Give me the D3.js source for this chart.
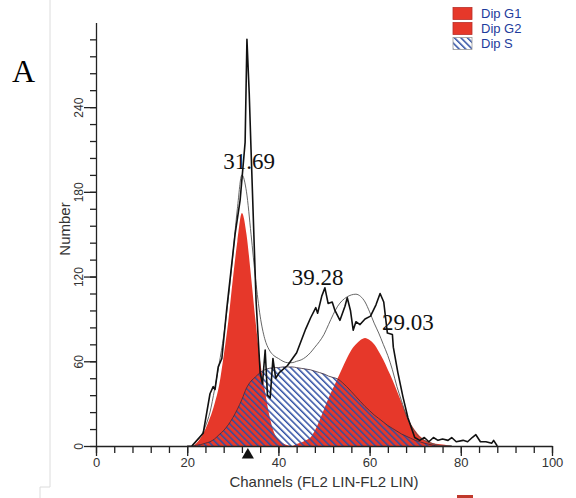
<!DOCTYPE html>
<html>
<head>
<meta charset="utf-8">
<script src="https://cdn.jsdelivr.net/npm/d3@7"></script>
<style>
  body { margin: 0; background: #fff; }
  svg { display: block; }
</style>
</head>
<body>
<svg width="576" height="498"></svg>
<script>

// Channel grid for the fitted components (20 .. 78)
const gridChannels = d3.range( 20, 79 );

const g1Counts = [ 0, 0, 2, 6, 12, 20, 30, 43, 64, 88, 118, 145, 165, 150, 120, 88, 60, 40, 22, 10,
  5, 2, 0.5, 0, 0, 0, 0, 0, 0, 0, 0, 0, 0, 0, 0, 0, 0, 0, 0, 0,
  0, 0, 0, 0, 0, 0, 0, 0, 0, 0, 0, 0, 0, 0, 0, 0, 0, 0, 0 ];

const g2Counts = [ 0, 0, 0, 0, 0, 0, 0, 0, 0, 0, 0, 0, 0, 0, 0, 0, 0, 0, 0, 0,
  0, 0, 0, 0, 1.5, 2.5, 4, 6, 11, 18, 26, 34, 41, 48, 55, 62, 68, 72, 75, 76.5,
  75, 72, 67, 61, 54, 47, 39, 31, 23, 16, 11, 7, 4.5, 3, 2, 1.5, 1, 0.5, 0 ];

const sCounts = [ 0, 0, 0.5, 1, 2, 3, 5, 8, 11, 15, 20, 26, 33, 41, 46, 49, 52, 54, 55, 55.5,
  55.5, 56, 56, 56, 55.5, 55, 54.5, 54, 53, 52, 51, 49.5, 48.5, 47.5, 45, 42, 38.5, 35, 31.5, 28,
  25, 22, 19.5, 17, 14.5, 12.5, 10.5, 8.5, 7, 5.5, 4, 3, 2, 1.2, 0.5, 0, 0, 0, 0 ];

const fitCounts = [ 0, 0, 3, 7, 14, 24, 40, 58, 78, 104, 135, 168, 192, 180, 150, 118, 92, 76, 68, 64,
  62, 60, 59, 59, 60, 61, 63, 66, 70, 74, 79, 86, 93, 99, 103, 105.5, 107, 107.5, 106, 102,
  95, 87, 80, 72, 64, 54, 42, 32, 22, 15, 10, 6, 4, 2.5, 1.5, 0.5, 0, 0, 0 ];

// Raw histogram
const histChannels = [ 21.0, 23.5, 25.0, 25.7, 26.1, 26.8, 27.6, 28.7, 30.5, 31.6, 32.7, 33.1, 33.6, 34.0, 35.1,
  36.0, 36.5, 37.1, 37.6, 38.2, 38.8, 39.4, 40.2, 42.0, 44.0, 46.0, 47.1, 48.2, 48.6, 49.5,
  50.2, 50.9, 51.8, 52.4, 53.5, 54.6, 55.1, 55.8, 56.4, 57.0, 57.9, 59.0, 60.2, 61.4, 62.3,
  63.1, 63.9, 65.0, 65.2, 66.2, 67.3, 68.4, 69.9, 71.0, 72.0, 73.0, 74.0, 75.0, 76.0, 77.2,
  78.0, 79.0, 80.5, 81.5, 82.5, 83.3, 84.3, 85.5, 86.8, 87.2, 88.0 ];

const histCounts = [ 0, 9, 37, 42, 40, 56, 62, 98, 150, 174, 215, 288, 250, 210, 103,
  52, 44, 68, 36, 34, 62, 48, 52, 57, 66, 83, 91, 98, 94, 106,
  112, 101, 102, 96, 89, 99, 105, 96, 82, 88, 86, 90, 92, 100, 108,
  102, 80, 79, 70, 52, 35, 20, 6, 4, 6, 3, 6, 4, 5, 4,
  6, 3, 4, 3, 6, 8, 3, 3, 2, 4, 0 ];

const peakLabels = [ "31.69", "39.28", "29.03" ];
const peakLabelChannels = [ 33.6, 48.6, 68.4 ];
const peakLabelCounts = [ 196, 114, 82 ];

const legendNames = [ "Dip G1", "Dip G2", "Dip S" ];
const markerChannel = 33.3;

const xMajorTicks = [ 0, 20, 40, 60, 80, 100 ];
const xMinorTicks = d3.range( 0, 101, 4 );
const yMajorTicks = [ 0, 60, 120, 180, 240 ];
const yMinorTicks = d3.range( 0, 289, 12 );

const red = "#e6382a";
const hatchBlue = "#2f4fa3";
const sans = "'Liberation Sans', Arial, sans-serif";
const serif = "'Liberation Serif', 'Times New Roman', serif";

const svg = d3.select( "svg" );

const x = d3.scaleLinear()
  .domain( [ 0, 100 ] )
  .range( [ 96, 552 ] );

const y = d3.scaleLinear()
  .domain( [ 0, 300 ] )
  .range( [ 446, 22.4 ] );

// Frame remnants of the scanned page

svg.append( "path" )
  .attr( "d", "M50,0V487H40V498" )
  .attr( "fill", "none" )
  .attr( "stroke", "#dcdcdc" )
  .attr( "stroke-width", 1 );

svg.append( "rect" )
  .attr( "x", 457 ).attr( "y", 495 )
  .attr( "width", 16 ).attr( "height", 3 )
  .attr( "fill", "#c0392b" );

svg.append( "text" )
  .attr( "x", 12 )
  .attr( "y", 82 )
  .style( "font-family", serif )
  .style( "font-size", "32px" )
  .text( "A" );

// Hatch pattern for S phase

const defs = svg.append( "defs" );

defs.append( "pattern" )
  .attr( "id", "hatch" )
  .attr( "patternUnits", "userSpaceOnUse" )
  .attr( "width", 4.6 )
  .attr( "height", 10 )
  .attr( "patternTransform", "rotate(-45)" )
  .append( "rect" )
    .attr( "x", 0 ).attr( "y", 0 )
    .attr( "width", 1.5 ).attr( "height", 10 )
    .attr( "fill", hatchBlue );

// Components

const grid = gridChannels.map( ( c, i ) => ( {
  c: c, g1: g1Counts[ i ], g2: g2Counts[ i ], s: sCounts[ i ], fit: fitCounts[ i ]
} ) );

function areaOf( key ) {
  return d3.area()
    .x( d => x( d.c ) )
    .y0( y( 0 ) )
    .y1( d => y( d[ key ] ) )
    .curve( d3.curveMonotoneX );
}

svg.append( "path" )
  .datum( grid )
  .attr( "d", areaOf( "g1" ) )
  .attr( "fill", red );

svg.append( "path" )
  .datum( grid )
  .attr( "d", areaOf( "g2" ) )
  .attr( "fill", red );

svg.append( "path" )
  .datum( grid )
  .attr( "d", areaOf( "s" ) )
  .attr( "fill", "url(#hatch)" );

svg.append( "path" )
  .datum( grid )
  .attr( "d", d3.line().x( d => x( d.c ) ).y( d => y( d.s ) ).curve( d3.curveMonotoneX ) )
  .attr( "fill", "none" )
  .attr( "stroke", "#3a2a3a" )
  .attr( "stroke-width", 0.8 );

// Fitted sum

svg.append( "path" )
  .datum( grid )
  .attr( "d", d3.line().x( d => x( d.c ) ).y( d => y( d.fit ) ).curve( d3.curveMonotoneX ) )
  .attr( "fill", "none" )
  .attr( "stroke", "#555" )
  .attr( "stroke-width", 0.9 );

// Histogram

const hist = histChannels.map( ( c, i ) => ( { c: c, n: histCounts[ i ] } ) );

svg.append( "path" )
  .datum( hist )
  .attr( "d", d3.line().x( d => x( d.c ) ).y( d => y( d.n ) ) )
  .attr( "fill", "none" )
  .attr( "stroke", "#111" )
  .attr( "stroke-width", 1.6 )
  .attr( "stroke-linejoin", "round" );

// Axes

function styleAxis( g ) {
  g.selectAll( "path, line" )
    .attr( "stroke", "#222" )
    .attr( "stroke-width", 1.3 );
  g.selectAll( "text" )
    .attr( "fill", "#333" )
    .style( "font-family", sans )
    .style( "font-size", "13px" );
}

svg.append( "g" )
  .attr( "transform", `translate(0,${ y( 0 ) })` )
  .call( d3.axisBottom( x ).tickValues( xMinorTicks ).tickSize( 7 ).tickSizeOuter( 0 ).tickFormat( "" ) )
  .call( styleAxis );

svg.append( "g" )
  .attr( "transform", `translate(0,${ y( 0 ) })` )
  .call( d3.axisBottom( x ).tickValues( xMajorTicks ).tickSize( 10 ).tickSizeOuter( 0 ).tickPadding( 2 ) )
  .call( styleAxis )
  .call( g => g.select( ".domain" ).remove() );

svg.append( "g" )
  .attr( "transform", `translate(${ x( 0 ) },0)` )
  .call( d3.axisLeft( y ).tickValues( yMinorTicks ).tickSize( 6 ).tickSizeOuter( 0 ).tickFormat( "" ) )
  .call( styleAxis );

svg.append( "g" )
  .attr( "transform", `translate(${ x( 0 ) },0)` )
  .call( d3.axisLeft( y ).tickValues( yMajorTicks ).tickSize( 12 ).tickSizeOuter( 0 ) )
  .call( styleAxis )
  .call( g => g.select( ".domain" ).remove() )
  .call( g => g.selectAll( "text" )
    .attr( "x", null )
    .attr( "dy", null )
    .attr( "text-anchor", "middle" )
    .attr( "transform", "translate(-13.5,0) rotate(-90)" )
    .style( "font-size", "12px" ) );

svg.append( "text" )
  .attr( "transform", "translate(70,229) rotate(-90)" )
  .attr( "text-anchor", "middle" )
  .attr( "fill", "#333" )
  .style( "font-family", sans )
  .style( "font-size", "15px" )
  .text( "Number" );

svg.append( "text" )
  .attr( "x", 324 )
  .attr( "y", 487 )
  .attr( "text-anchor", "middle" )
  .attr( "fill", "#333" )
  .style( "font-family", sans )
  .style( "font-size", "15px" )
  .text( "Channels (FL2 LIN-FL2 LIN)" );

svg.append( "path" )
  .attr( "d", d3.symbol( d3.symbolTriangle, 64 ) )
  .attr( "transform", `translate(${ x( markerChannel ) },455)` )
  .attr( "fill", "#111" );

// Peak labels

svg.selectAll( "text.peakLabel" )
  .data( peakLabels )
  .enter().append( "text" )
    .attr( "class", "peakLabel" )
    .attr( "x", ( d, i ) => x( peakLabelChannels[ i ] ) )
    .attr( "y", ( d, i ) => y( peakLabelCounts[ i ] ) )
    .attr( "text-anchor", "middle" )
    .attr( "fill", "#111" )
    .style( "font-family", serif )
    .style( "font-size", "23px" )
    .text( d => d );

// Legend

const legend = svg.selectAll( "g.legendItem" )
  .data( legendNames )
  .enter().append( "g" )
    .attr( "class", "legendItem" )
    .attr( "transform", ( d, i ) => `translate(453,${ 7.5 + i * 15 })` );

legend.append( "rect" )
  .attr( "width", 19 )
  .attr( "height", 12 )
  .attr( "fill", ( d, i ) => i < 2 ? red : "url(#hatch)" )
  .attr( "stroke", ( d, i ) => i < 2 ? "#b8302a" : "#999" )
  .attr( "stroke-width", 0.8 );

legend.append( "text" )
  .attr( "x", 28 )
  .attr( "y", 10.5 )
  .attr( "fill", "#1d3c9c" )
  .style( "font-family", sans )
  .style( "font-size", "13px" )
  .text( d => d );

</script>
</body>
</html>
